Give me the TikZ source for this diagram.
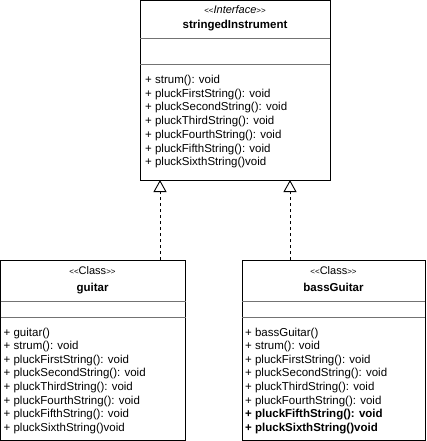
\documentclass[tikz,border=0pt]{standalone}
\usepackage{fontspec}
\setmainfont{Liberation Sans}
\usetikzlibrary{arrows.meta}
\newcommand{\methfont}{\fontsize{11.5}{13.7}\selectfont}
\newcommand{\ltsmall}{\fontsize{8}{8}\selectfont}
\newcommand{\stl}{{\ltsmall<{}<}}
\newcommand{\str}{{\ltsmall>{}>}}
\begin{document}
\begin{tikzpicture}[x=1pt,y=-1pt,
  box/.style={draw=black, line width=1pt, anchor=north west, inner sep=0pt, outer sep=0pt, fill=white},
  divline/.style={draw=black!55, line width=0.9pt},
  meth/.style={anchor=base west, inner sep=0pt, font=\methfont},
  titletext/.style={anchor=base, inner sep=0pt, font=\fontsize{11.5}{13}\selectfont\bfseries},
  stereo/.style={anchor=base, inner sep=0pt, font=\fontsize{11}{12}\selectfont},
  impl/.style={draw=black, line width=0.9pt, dash pattern=on 3pt off 3pt,
    -{Triangle[open, length=12pt, width=13pt, fill=white]}}
]
\useasboundingbox (0,0) rectangle (426,441);
% boxes
\node[box, minimum width=190pt, minimum height=179pt] (top) at (140,1) {};
\node[box, minimum width=185pt, minimum height=180pt] (guitar) at (0.5,260) {};
\node[box, minimum width=183pt, minimum height=180pt] (bass) at (242,260) {};
% dividers
\draw[divline] ([yshift=-37pt]top.north west) -- ([yshift=-37pt]top.north east);
\draw[divline] ([yshift=-63pt]top.north west) -- ([yshift=-63pt]top.north east);
\draw[divline] ([yshift=-41pt]guitar.north west) -- ([yshift=-41pt]guitar.north east);
\draw[divline] ([yshift=-57pt]guitar.north west) -- ([yshift=-57pt]guitar.north east);
\draw[divline] ([yshift=-41pt]bass.north west) -- ([yshift=-41pt]bass.north east);
\draw[divline] ([yshift=-57pt]bass.north west) -- ([yshift=-57pt]bass.north east);
% headers
\node[stereo] (tst) at (235,13.5) {\stl\textit{Interface}\str};
\node[titletext] (tti) at (235,28.5) {stringedInstrument};
\node[stereo] (gst) at (92.5,274.5) {\stl Class\str};
\node[titletext] (gti) at (92.5,291) {guitar};
\node[stereo] (bst) at (333.5,274.5) {\stl Class\str};
\node[titletext] (bti) at (333.5,291) {bassGuitar};
% methods
\foreach \t [count=\i from 0] in {+ strum(): void, + pluckFirstString(): void, + pluckSecondString(): void, + pluckThirdString(): void, + pluckFourthString(): void, + pluckFifthString(): void, + pluckSixthString()void}
  \node[meth] (tm\i) at (145,{83.5+13.7*\i}) {\t};
\foreach \t [count=\i from 0] in {+ guitar(), + strum(): void, + pluckFirstString(): void, + pluckSecondString(): void, + pluckThirdString(): void, + pluckFourthString(): void, + pluckFifthString(): void, + pluckSixthString()void}
  \node[meth] (gm\i) at (3.5,{336+13.6*\i}) {\t};
\foreach \t [count=\i from 0] in {+ bassGuitar(), + strum(): void, + pluckFirstString(): void, + pluckSecondString(): void, + pluckThirdString(): void, + pluckFourthString(): void, \textbf{+ pluckFifthString(): void}, \textbf{+ pluckSixthString()void}}
  \node[meth] (bm\i) at (245,{336+13.6*\i}) {\t};
% connectors
\coordinate (c1) at (160,0);
\coordinate (c2) at (290,0);
\draw[impl] (guitar.north -| c1) -- (top.south -| c1);
\draw[impl] (bass.north -| c2) -- (top.south -| c2);
\end{tikzpicture}
\end{document}
